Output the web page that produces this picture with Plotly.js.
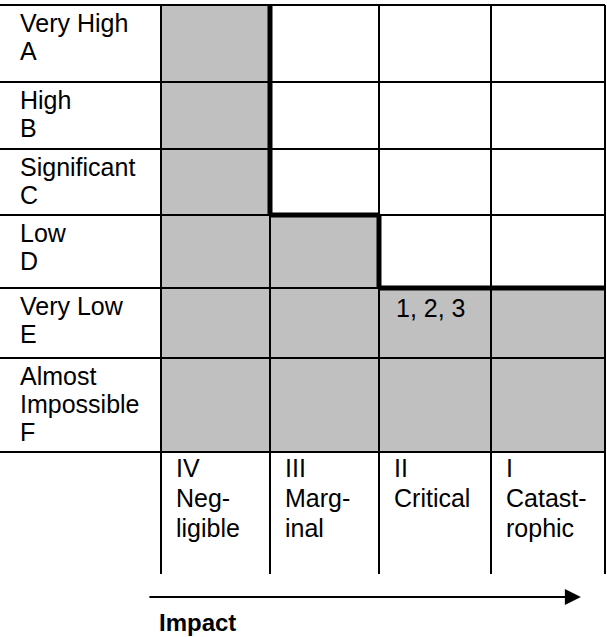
<!DOCTYPE html>
<html>
<head>
<meta charset="utf-8">
<script src="https://cdn.plot.ly/plotly-3.0.1.min.js"></script>
<style>
  html, body { margin: 0; padding: 0; background: #ffffff; }
  #chart { width: 607px; height: 637px; }
</style>
</head>
<body>
<div id="chart"></div>
<script>
// ---------------- DATA ----------------
// Likelihood rows (top to bottom), each label split into its printed lines
const likelihoodLabels = [
  ["Very High", "A"],
  ["High", "B"],
  ["Significant", "C"],
  ["Low", "D"],
  ["Very Low", "E"],
  ["Almost", "Impossible", "F"]
];
// Impact columns (left to right), each label split into its printed lines
const impactLabels = [
  ["IV", "Neg-", "ligible"],
  ["III", "Marg-", "inal"],
  ["II", "Critical"],
  ["I", "Catast-", "rophic"]
];
// 1 = acceptable (shaded) cell, 0 = not acceptable (white)
const shaded = [
  [1, 0, 0, 0],
  [1, 0, 0, 0],
  [1, 0, 0, 0],
  [1, 1, 0, 0],
  [1, 1, 1, 1],
  [1, 1, 1, 1]
];
// Risk items placed in the matrix
const riskItems = [
  ["", "", "", ""],
  ["", "", "", ""],
  ["", "", "", ""],
  ["", "", "", ""],
  ["", "", "1, 2, 3", ""],
  ["", "", "", ""]
];
const axisTitle = "Impact";

// ---------------- LAYOUT GEOMETRY (table sizes, not data) ----------------
const colWidths = [161, 109, 109, 112, 114];          // label column + 4 impact columns
const rowHeights = [77, 67, 66, 73, 70, 94, 122];     // rows A..F + header row
const xEdges = [0]; colWidths.forEach(w => xEdges.push(xEdges[xEdges.length - 1] + w));
const yEdges = [0]; rowHeights.forEach(h => yEdges.push(yEdges[yEdges.length - 1] + h));
const nRows = likelihoodLabels.length, nCols = impactLabels.length;

const FONT = "Arial, 'Liberation Sans', sans-serif";
const FS = 25;
const GRAY = "#c0c0c0";
const rowStep = 28, headStep = 30;
const labelPad = 18, cellPad = 13, itemPad = 15;

// ---------------- TRACES ----------------
const heat = {
  type: "heatmap",
  x: xEdges.slice(1),
  y: yEdges.slice(0, nRows + 1),
  z: shaded,
  zmin: 0, zmax: 1,
  colorscale: [[0, "#ffffff"], [1, GRAY]],
  showscale: false,
  hoverinfo: "skip"
};

// ---------------- SHAPES ----------------
const shapes = [];
const line = (x0, y0, x1, y1, w) => shapes.push({
  type: "line", xref: "x", yref: "y", x0, y0, x1, y1,
  line: { color: "#000000", width: w }
});
// thin grid lines
for (let r = 0; r <= nRows; r++) line(xEdges[0], yEdges[r], xEdges[nCols + 1], yEdges[r], 2);
for (let c = 1; c <= nCols + 1; c++) line(xEdges[c], yEdges[0], xEdges[c], yEdges[nRows + 1], 2);
// thick boundary between shaded (acceptable) and white (unacceptable) cells
for (let r = 0; r < nRows; r++) {
  for (let c = 0; c < nCols; c++) {
    if (shaded[r][c]) continue;
    if (c > 0 && shaded[r][c - 1]) line(xEdges[c + 1], yEdges[r], xEdges[c + 1], yEdges[r + 1], 5);
    if (r < nRows - 1 && shaded[r + 1][c]) line(xEdges[c + 1], yEdges[r + 1], xEdges[c + 2], yEdges[r + 1], 5);
  }
}

// ---------------- ANNOTATIONS ----------------
const annotations = [];
const txt = (text, x, y, xs, ys, extra) => annotations.push(Object.assign({
  text, x, y, xref: "x", yref: "y", xanchor: "left", yanchor: "top",
  xshift: xs, yshift: ys, showarrow: false, align: "left",
  font: { family: FONT, size: FS, color: "#000000" }
}, extra || {}));

likelihoodLabels.forEach((lines, r) => {
  lines.forEach((t, i) => txt(t, xEdges[0], yEdges[r], labelPad, -1.5 - i * rowStep));
});
impactLabels.forEach((lines, c) => {
  lines.forEach((t, i) => txt(t, xEdges[c + 1], yEdges[nRows], cellPad, -i * headStep));
});
riskItems.forEach((row, r) => row.forEach((t, c) => {
  if (t) txt(t, xEdges[c + 1], yEdges[r], itemPad, -4);
}));

// Impact arrow and its title
annotations.push({
  xref: "paper", yref: "paper", x: 0.957, y: 0.0628,
  axref: "pixel", ayref: "pixel", ax: -433, ay: 0,
  text: "", showarrow: true, arrowhead: 2, arrowsize: 1.6, arrowwidth: 2,
  arrowcolor: "#000000"
});
annotations.push({
  xref: "paper", yref: "paper", x: 159 / 607, y: 0,
  xanchor: "left", yanchor: "bottom", yshift: 1, borderpad: 0, borderwidth: 0,
  showarrow: false,
  text: "<b>" + axisTitle + "</b>",
  font: { family: FONT, size: 24, color: "#000000" }
});

const layout = {
  width: 607, height: 637,
  margin: { l: 0, r: 0, t: 0, b: 0 },
  paper_bgcolor: "#ffffff", plot_bgcolor: "#ffffff",
  showlegend: false, hovermode: false,
  xaxis: { range: [0, 607], visible: false, fixedrange: true },
  yaxis: { range: [632, -5], visible: false, fixedrange: true },
  shapes, annotations
};

Plotly.newPlot("chart", [heat], layout, { displayModeBar: false, staticPlot: true });
</script>
</body>
</html>
